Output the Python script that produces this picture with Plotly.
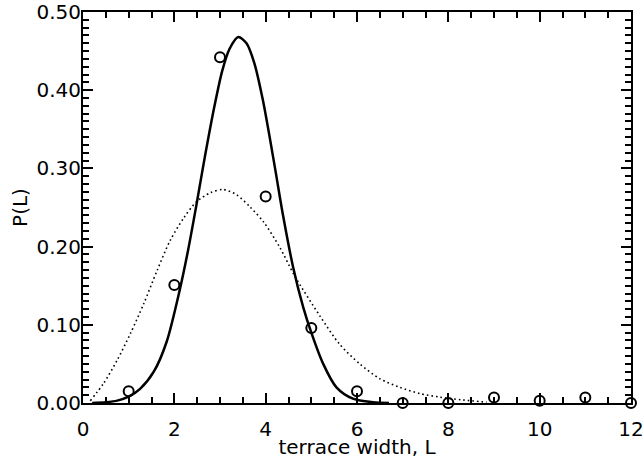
import plotly.graph_objects as go

# measured data points (open circles)
L_data = [1, 2, 3, 4, 5, 6, 7, 8, 9, 10, 11, 12]
P_data = [0.015, 0.151, 0.442, 0.264, 0.096, 0.015, 0.000, 0.000, 0.007, 0.003, 0.007, 0.000]

# solid fit curve
solid_x = [0.20, 0.50, 0.75, 1.00, 1.25, 1.55, 1.83, 2.12, 2.30, 2.48, 2.66, 2.88,
           3.05, 3.21, 3.40, 3.58, 3.75, 3.94, 4.20, 4.38, 4.60, 4.82, 5.00, 5.26,
           5.55, 5.91, 6.35, 6.70]
solid_y = [0.000, 0.001, 0.003, 0.008, 0.018, 0.040, 0.078, 0.145, 0.195, 0.252, 0.312, 0.380,
           0.425, 0.453, 0.468, 0.460, 0.435, 0.387, 0.302, 0.240, 0.174, 0.123, 0.090, 0.050,
           0.020, 0.0055, 0.001, 0.000]

# dotted curve
dot_x = [0.16, 0.45, 0.75, 1.04, 1.33, 1.62, 1.91, 2.21, 2.48, 2.79, 3.07, 3.37, 3.67,
         3.96, 4.31, 4.64, 5.18, 5.62, 6.06, 6.50, 6.94, 7.38, 7.81, 8.30, 8.84]
dot_y = [0.003, 0.025, 0.055, 0.089, 0.127, 0.169, 0.208, 0.237, 0.257, 0.269, 0.273, 0.266, 0.250,
         0.231, 0.199, 0.162, 0.112, 0.075, 0.050, 0.031, 0.020, 0.012, 0.0075, 0.004, 0.001]

x_ticks = [0, 2, 4, 6, 8, 10, 12]
y_ticks = [0.0, 0.1, 0.2, 0.3, 0.4, 0.5]
x_range = [0, 12]
y_range = [0, 0.5]
x_minor_step = 0.5
y_minor_step = 0.01

FONT = "DejaVu Sans"

fig = go.Figure()
fig.add_trace(go.Scatter(x=dot_x, y=dot_y, mode="lines",
                         line=dict(color="black", width=1.6, dash="1.6px,3px", shape="spline", smoothing=0.8),
                         showlegend=False, hoverinfo="skip"))
fig.add_trace(go.Scatter(x=solid_x, y=solid_y, mode="lines",
                         line=dict(color="black", width=2.5, shape="spline", smoothing=0.8),
                         showlegend=False, hoverinfo="skip"))
fig.add_trace(go.Scatter(x=L_data, y=P_data, mode="markers",
                         marker=dict(symbol="circle-open", size=10, color="black", line=dict(width=2, color="black")),
                         showlegend=False, cliponaxis=False))
# empty traces so the overlay axes carrying the minor ticks are drawn
fig.add_trace(go.Scatter(x=[None], y=[None], xaxis="x2", yaxis="y2", mode="markers",
                         showlegend=False, hoverinfo="skip"))
fig.add_trace(go.Scatter(x=[None], y=[None], xaxis="x3", yaxis="y3", mode="markers",
                         showlegend=False, hoverinfo="skip"))

axis_common = dict(showline=True, linecolor="black", linewidth=2, mirror="ticks", showgrid=False, zeroline=False,
                   ticks="inside", tickcolor="black", tickwidth=2, ticklen=10, automargin=False,
                   ticklabeloverflow="allow",
                   tickfont=dict(family=FONT, size=20, color="black"))

minor_common = dict(showline=False, mirror=False, showgrid=False, zeroline=False,
                    ticks="inside", tickcolor="black", tickwidth=2, ticklen=6, automargin=False,
                    showticklabels=False, tickmode="linear", tick0=0)

fig.update_layout(
    xaxis=dict(range=x_range, tickvals=x_ticks, ticktext=[str(v) for v in x_ticks],
               minor=dict(dtick=x_minor_step, ticks="inside", ticklen=6, tickwidth=2, tickcolor="black"),
               title=dict(text="terrace width, L", font=dict(family=FONT, size=20, color="black"), standoff=6),
               ticklabelstandoff=7, **axis_common),
    yaxis=dict(range=y_range, tickvals=y_ticks, ticktext=[f"{v:.2f}" for v in y_ticks],
               minor=dict(dtick=y_minor_step, ticks="inside", ticklen=6, tickwidth=2, tickcolor="black"),
               title=dict(text="P(L)", font=dict(family=FONT, size=20, color="black"), standoff=3),
               ticklabelstandoff=-4, **axis_common),
    xaxis2=dict(range=x_range, overlaying="x", anchor="y", side="bottom", dtick=x_minor_step, **minor_common),
    yaxis2=dict(range=y_range, overlaying="y", anchor="x", side="left", dtick=y_minor_step, **minor_common),
    xaxis3=dict(range=x_range, overlaying="x", anchor="y", side="top", dtick=x_minor_step, **minor_common),
    yaxis3=dict(range=y_range, overlaying="y", anchor="x", side="right", dtick=y_minor_step, **minor_common),
    width=643, height=459, margin=dict(l=83, r=12, t=12, b=56),
    paper_bgcolor="white", plot_bgcolor="white", font=dict(family=FONT, color="black"),
)

fig.write_html("out.html", config={"displayModeBar": False},
               post_script="document.body.style.margin='0px';document.body.style.overflow='hidden';")
